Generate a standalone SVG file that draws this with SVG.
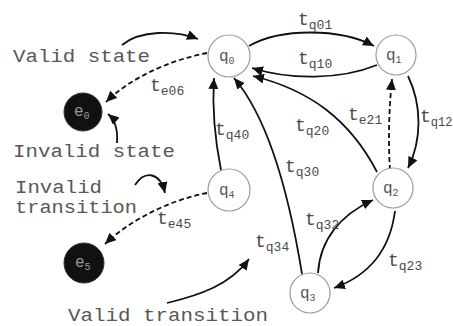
<svg xmlns="http://www.w3.org/2000/svg" width="453" height="326" viewBox="0 0 453 326">
<style>
  .node { fill: #fff; stroke: #9a9a9a; stroke-width: 1.2; }
  .err { fill: #111; stroke: #333; stroke-width: 1; }
  .nl { font-family: "Liberation Mono", monospace; font-size: 16px; fill: #555; }
  .el { font-family: "Liberation Mono", monospace; font-size: 16px; fill: #999; }
  .sub { font-size: 10px; }
  .lab { font-family: "Liberation Mono", monospace; font-size: 18px; fill: #585858; }
  .tl { font-family: "Liberation Mono", monospace; font-size: 18px; fill: #4a4a4a; }
  .tsub { font-size: 13px; }
  .edge { fill: none; stroke: #111; stroke-width: 1.8; marker-end: url(#ah); }
  .dash { stroke-dasharray: 5 3; }
</style>
<defs>
  <marker id="ah" markerUnits="userSpaceOnUse" markerWidth="12" markerHeight="10" refX="11" refY="5" orient="auto">
    <path d="M0,0 L11,5 L0,10 z" fill="#111"/>
  </marker>
</defs>
<rect width="453" height="326" fill="#fff"/>
<g id="connectors">
  <path class="edge" d="M249,46 C280,28 340,28 374,46"/>
  <path class="edge" d="M377,65 C340,80 290,80 252,68"/>
  <path class="edge" d="M377,172 C350,120 310,90 253,76"/>
  <path class="edge" d="M302,274 C290,200 270,120 234,78"/>
  <path class="edge" d="M221,170 C215,140 212,110 214,78"/>
  <path class="edge" d="M408,76 C422,105 422,140 408,168"/>
  <path class="edge dash" d="M390,170 C388,140 389,110 392,79"/>
  <path class="edge" d="M395,211 C390,250 370,275 334,288"/>
  <path class="edge" d="M318,273 C320,240 340,215 373,200"/>
  <path class="edge dash" d="M207,53 C170,60 130,78 106,102"/>
  <path class="edge dash" d="M207,193 C170,200 130,220 105,244"/>
  <path class="edge" d="M122,45 C140,30 175,30 198,39"/>
  <path class="edge" d="M117,143 C118,130 115,120 108,114"/>
  <path class="edge" d="M135,185 C145,170 160,172 165,193"/>
  <path class="edge" d="M167,303 C200,295 230,285 249,259"/>
</g>
<g id="q0"><circle class="node" cx="229" cy="56" r="21"/><text class="nl" x="219" y="61">q<tspan class="sub" dy="3">0</tspan></text></g>
<g id="q1"><circle class="node" cx="396" cy="55" r="20"/><text class="nl" x="386" y="60">q<tspan class="sub" dy="3">1</tspan></text></g>
<g id="q2"><circle class="node" cx="393" cy="188" r="20"/><text class="nl" x="383" y="193">q<tspan class="sub" dy="3">2</tspan></text></g>
<g id="q3"><circle class="node" cx="310" cy="293" r="20"/><text class="nl" x="300" y="298">q<tspan class="sub" dy="3">3</tspan></text></g>
<g id="q4"><circle class="node" cx="229" cy="190" r="21"/><text class="nl" x="219" y="195">q<tspan class="sub" dy="3">4</tspan></text></g>
<g id="e0"><circle class="err" cx="83" cy="112" r="19"/><text class="el" x="74" y="116">e<tspan class="sub" dy="3">0</tspan></text></g>
<g id="e5"><circle class="err" cx="84" cy="263" r="20"/><text class="el" x="75" y="267">e<tspan class="sub" dy="3">5</tspan></text></g>
<g id="labels">
  <text class="lab" x="13" y="62" textLength="137" lengthAdjust="spacingAndGlyphs">Valid state</text>
  <text class="lab" x="13" y="157" textLength="162" lengthAdjust="spacingAndGlyphs">Invalid state</text>
  <text class="lab" x="15" y="193" textLength="87" lengthAdjust="spacingAndGlyphs">Invalid</text>
  <text class="lab" x="15" y="213" textLength="122" lengthAdjust="spacingAndGlyphs">transition</text>
  <text class="lab" x="68" y="321" textLength="200" lengthAdjust="spacingAndGlyphs">Valid transition</text>
  <text class="tl" x="298" y="25">t<tspan class="tsub" dy="4">q01</tspan></text>
  <text class="tl" x="298" y="64">t<tspan class="tsub" dy="4">q10</tspan></text>
  <text class="tl" x="150" y="91">t<tspan class="tsub" dy="4">e06</tspan></text>
  <text class="tl" x="215" y="135">t<tspan class="tsub" dy="4">q40</tspan></text>
  <text class="tl" x="295" y="131">t<tspan class="tsub" dy="4">q20</tspan></text>
  <text class="tl" x="348" y="120">t<tspan class="tsub" dy="4">e21</tspan></text>
  <text class="tl" x="420" y="122">t<tspan font-size="12" dy="4">q12</tspan></text>
  <text class="tl" x="285" y="172">t<tspan class="tsub" dy="4">q30</tspan></text>
  <text class="tl" x="305" y="225">t<tspan class="tsub" dy="4">q32</tspan></text>
  <text class="tl" x="255" y="247">t<tspan class="tsub" dy="4">q34</tspan></text>
  <text class="tl" x="388" y="266">t<tspan class="tsub" dy="4">q23</tspan></text>
  <text class="tl" x="157" y="224">t<tspan class="tsub" dy="4">e45</tspan></text>
</g>
</svg>
